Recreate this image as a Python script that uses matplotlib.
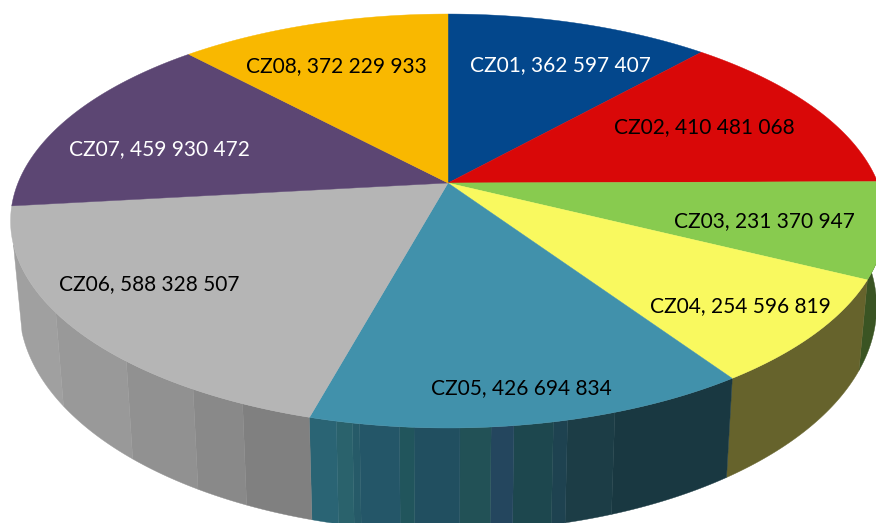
import numpy as np
import matplotlib
matplotlib.use("Agg")
import matplotlib.pyplot as plt
from matplotlib.patches import Polygon

# data
regions = ['CZ01', 'CZ02', 'CZ03', 'CZ04', 'CZ05', 'CZ06', 'CZ07', 'CZ08']
values = [362597407, 410481068, 231370947, 254596819, 426694834, 588328507, 459930472, 372229933]

top_colors = ['#03478C', '#D90808', '#88CB4F', '#F9F95F', '#4191AB', '#B5B5B5', '#5C4673', '#F9B800']
text_colors = ['white', 'black', 'black', 'black', 'black', 'black', 'white', 'black']
label_x = [470, 614, 674, 650, 431, 59, 69, 246]
label_y = [65, 127, 221, 306, 388, 284, 149, 66]

# side wall shading: (end angle in degrees clockwise from top, colour)
wall_facets = [
    (116.4, '#3A5423'), (145.9, '#66632C'),
    (161.3, '#193841'), (166.8, '#1C3D46'), (168.4, '#1E4250'), (172.8, '#1D474E'),
    (175.3, '#24465E'), (178.7, '#225156'), (183.7, '#214F60'), (185.3, '#21555C'),
    (189.7, '#245668'), (190.5, '#265A68'), (192.3, '#2A626C'), (195.4, '#2A6474'),
    (203.4, '#808080'), (209.9, '#898989'), (220.0, '#919191'), (234.6, '#999999'),
    (253.0, '#A0A0A0'),
]

# perspective of the disc
cx, cy = 448, 183
k, a, b = 0.1836, 200, 430


def top_edge(deg):
    t = np.radians(deg)
    den = 1 + k * np.cos(t)
    return cx + b * np.sin(t) / den, cy - a * np.cos(t) / den


def bottom_edge(deg):
    x, y = top_edge(deg)
    return 444 + 0.98 * (x - 444), 67 + 1.085 * y


fig = plt.figure(figsize=(8.76, 5.23), dpi=100)
ax = fig.add_axes([0, 0, 1, 1])
ax.set_xlim(0, 876)
ax.set_ylim(523, 0)
ax.axis('off')

# walls first
start = 89.6
for end, color in wall_facets:
    th = np.linspace(start, end, 40)
    xt, yt = top_edge(th)
    xb, yb = bottom_edge(th)
    pts = np.r_[np.c_[xt, yt], np.c_[xb, yb][::-1]]
    ax.add_patch(Polygon(pts, closed=True, fc=color, ec=color, lw=0.3, zorder=1))
    start = end

# top face
angles = np.cumsum([0] + values) / sum(values) * 360
for i, name in enumerate(regions):
    th = np.linspace(angles[i], angles[i + 1], 120)
    xt, yt = top_edge(th)
    pts = np.r_[[[cx, cy]], np.c_[xt, yt]]
    ax.add_patch(Polygon(pts, closed=True, fc=top_colors[i], ec=top_colors[i], lw=0.3, zorder=2))

for i, name in enumerate(regions):
    number = f"{values[i]:,}".replace(',', ' ')
    ax.text(label_x[i], label_y[i], f"{name}, {number}", color=text_colors[i], fontsize=15,
            family='Lato', ha='left', va='center', zorder=3)

fig.savefig('out.png', dpi=100)
